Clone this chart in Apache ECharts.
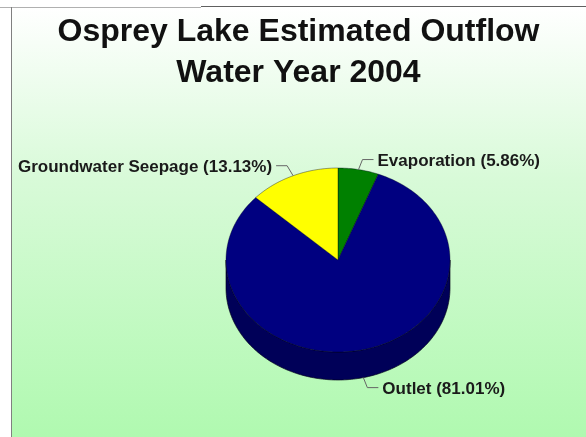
<!DOCTYPE html>
<html>
<head>
<meta charset="utf-8">
<script src="https://cdn.jsdelivr.net/npm/echarts@6/dist/echarts.min.js"></script>
<style>
html,body{margin:0;padding:0;background:#fff;}
#chart{width:586px;height:437px;}
</style>
</head>
<body>
<div id="chart"></div>
<script>
// ---- data ----
const titleLines = ['Osprey Lake Estimated Outflow', 'Water Year 2004'];
const categories = ['Evaporation', 'Outlet', 'Groundwater Seepage'];
const values = [5.86, 81.01, 13.13];

// ---- styles ----
const topColors = ['#008000', '#000080', '#ffff00'];
const sideColors = ['#004000', '#000058', '#9a9a00'];

const total = values.reduce((a, b) => a + b, 0);
const cum = [];
values.reduce((acc, v, i) => { cum[i] = acc; return acc + v; }, 0);

const chart = echarts.init(document.getElementById('chart'), null, {renderer: 'canvas'});

// pie geometry (layout)
const geo = {cx: 338, cy: 260, rx: 112, ry: 92, depth: 28};
function pt(theta, dy) {
  return [geo.cx + geo.rx * Math.sin(theta), geo.cy - geo.ry * Math.cos(theta) + (dy || 0)];
}
function arc(a, b, dy) {
  const pts = [];
  const n = Math.max(2, Math.ceil((b - a) / 0.02));
  for (let k = 0; k <= n; k++) pts.push(pt(a + (b - a) * k / n, dy));
  return pts;
}
function angles(i) {
  const a = cum[i] / total * Math.PI * 2;
  const b = (cum[i] + values[i]) / total * Math.PI * 2;
  return [a, b];
}

function renderSide(params, api) {
  const i = params.dataIndex;
  const [a, b] = angles(i);
  const lo = Math.max(a, Math.PI / 2), hi = Math.min(b, Math.PI * 1.5);
  if (hi <= lo) return {type: 'group', children: []};
  const top = arc(lo, hi, 0);
  const bot = arc(lo, hi, geo.depth).reverse();
  return {
    type: 'polygon',
    shape: {points: top.concat(bot)},
    style: {fill: sideColors[i], stroke: 'rgba(0,0,20,0.8)', lineWidth: 0.8}
  };
}

function renderTop(params, api) {
  const i = params.dataIndex;
  const [a, b] = angles(i);
  const pts = [[geo.cx, geo.cy]].concat(arc(a, b, 0));
  const mid = (a + b) / 2;
  const s = Math.sin(mid), c = Math.cos(mid);
  const p0 = pt(mid, c < 0 ? geo.depth : 0);
  const dir = s >= 0 ? 1 : -1;
  const p1 = [p0[0] + (dir > 0 ? 4 : -6), p0[1] - 10 * Math.sign(c)];
  const p2 = [p1[0] + dir * 11, p1[1]];
  const pct = (api.value(0) / total * 100).toFixed(2);
  return {
    type: 'group',
    children: [
      {
        type: 'polygon',
        shape: {points: pts},
        style: {fill: topColors[i], stroke: 'rgba(0,0,30,0.55)', lineWidth: 0.7}
      },
      {
        type: 'polyline',
        shape: {points: [p0, p1, p2]},
        style: {stroke: '#666', lineWidth: 1, fill: null}
      },
      {
        type: 'text',
        x: p2[0] + dir * 4,
        y: p2[1] + 2,
        style: {
          text: categories[i] + ' (' + pct + '%)',
          fill: '#1a1a1a',
          font: 'bold 17px "Liberation Sans", Arial, sans-serif',
          align: dir > 0 ? 'left' : 'right',
          verticalAlign: 'middle'
        }
      }
    ]
  };
}

const titleFont = 'bold 32px "Liberation Sans", Arial, sans-serif';
const option = {
  animation: false,
  graphic: [
    {type: 'rect', silent: true, z: -10, shape: {x: 11, y: 7, width: 575, height: 430},
     style: {fill: new echarts.graphic.LinearGradient(0, 0, 0, 1, [
       {offset: 0, color: '#ffffff'}, {offset: 0.4, color: '#d8fad8'}, {offset: 1, color: '#b0f9b0'}])}},
    {type: 'line', silent: true, z: -5, shape: {x1: 0, y1: 7.5, x2: 201, y2: 7.5}, style: {stroke: '#b0b0b0', lineWidth: 1}},
    {type: 'line', silent: true, z: -5, shape: {x1: 201, y1: 6.5, x2: 586, y2: 6.5}, style: {stroke: '#606060', lineWidth: 1}},
    {type: 'line', silent: true, z: -5, shape: {x1: 11.5, y1: 7, x2: 11.5, y2: 437}, style: {stroke: '#808080', lineWidth: 1}},
    {type: 'text', silent: true, z: 5, x: 298.5, y: 32,
     style: {text: titleLines[0], font: titleFont, fill: '#111', align: 'center', verticalAlign: 'middle'}},
    {type: 'text', silent: true, z: 5, x: 298.5, y: 73,
     style: {text: titleLines[1], font: titleFont, fill: '#111', align: 'center', verticalAlign: 'middle'}}
  ],
  series: [
    {type: 'custom', coordinateSystem: 'none', silent: true, z: 2, renderItem: renderSide, data: values.map(v => [v])},
    {type: 'custom', coordinateSystem: 'none', silent: true, z: 3, renderItem: renderTop, data: values.map(v => [v])}
  ]
};
chart.setOption(option);
</script>
</body>
</html>
